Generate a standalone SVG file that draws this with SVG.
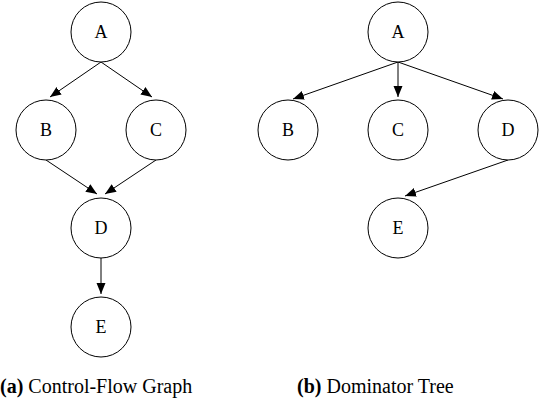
<svg xmlns="http://www.w3.org/2000/svg" width="543" height="404" viewBox="0 0 543 404">
<defs>
<marker id="arr" markerUnits="userSpaceOnUse" markerWidth="12" markerHeight="10" refX="11" refY="4.5" orient="auto">
<path d="M0,0 L11,4.5 L0,9 z" fill="#000"/>
</marker>
<style>
.n circle{fill:#fff;stroke:#000;stroke-width:1}
.n text{font-size:18px;text-anchor:middle;fill:#000}
.e line{stroke:#000;stroke-width:1;marker-end:url(#arr)}
.cap{font-size:20px;fill:#000}
</style>
</defs>
<rect width="543" height="404" fill="#fff"/>
<g font-family="Liberation Serif, Times New Roman, serif">
<g id="cfg-edges" class="e">
<line x1="101" y1="62" x2="50" y2="97"/>
<line x1="101" y1="62" x2="152" y2="97"/>
<line x1="46" y1="160" x2="97" y2="194"/>
<line x1="156" y1="160" x2="105" y2="194"/>
<line x1="101" y1="258" x2="101" y2="294"/>
</g>
<g id="cfg-A" class="n"><circle cx="101" cy="32" r="30"/><text x="101" y="38">A</text></g>
<g id="cfg-B" class="n"><circle cx="46" cy="130" r="30"/><text x="46" y="136">B</text></g>
<g id="cfg-C" class="n"><circle cx="156" cy="130" r="30"/><text x="156" y="136">C</text></g>
<g id="cfg-D" class="n"><circle cx="101" cy="228" r="30"/><text x="101" y="234">D</text></g>
<g id="cfg-E" class="n"><circle cx="101" cy="327" r="30"/><text x="101" y="333">E</text></g>
<g id="dom-edges" class="e">
<line x1="398" y1="62" x2="293" y2="99"/>
<line x1="398" y1="62" x2="398" y2="97"/>
<line x1="398" y1="62" x2="503" y2="99"/>
<line x1="508" y1="160" x2="405" y2="196"/>
</g>
<g id="dom-A" class="n"><circle cx="398" cy="32" r="30"/><text x="398" y="38">A</text></g>
<g id="dom-B" class="n"><circle cx="288" cy="130" r="30"/><text x="288" y="136">B</text></g>
<g id="dom-C" class="n"><circle cx="398" cy="130" r="30"/><text x="398" y="136">C</text></g>
<g id="dom-D" class="n"><circle cx="508" cy="130" r="30"/><text x="508" y="136">D</text></g>
<g id="dom-E" class="n"><circle cx="398" cy="228" r="30"/><text x="398" y="234">E</text></g>
<text class="cap" x="0" y="393"><tspan font-weight="bold">(a)</tspan> Control-Flow Graph</text>
<text class="cap" x="297" y="393"><tspan font-weight="bold">(b)</tspan> Dominator Tree</text>
</g>
</svg>
